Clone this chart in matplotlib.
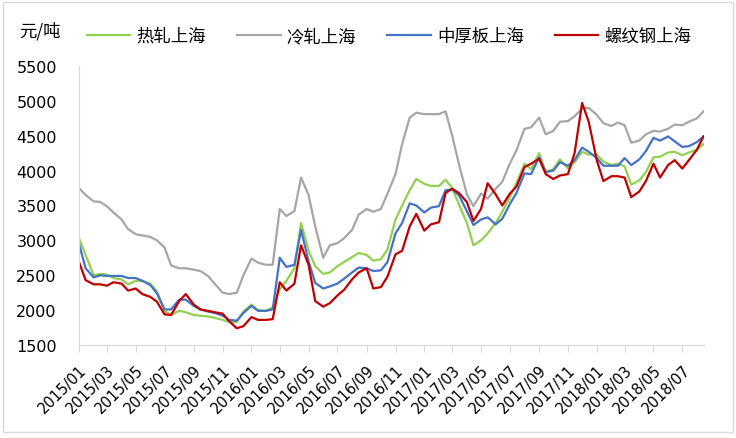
import matplotlib
matplotlib.use('Agg')
import matplotlib.pyplot as plt
import pandas as pd
from matplotlib.patches import Rectangle
from matplotlib.font_manager import FontProperties

plt.rcParams['font.family'] = ['Noto Sans CJK SC', 'DejaVu Sans']

# semi-monthly observation dates (1st and 15th of each month)
dates = pd.date_range('2015-01-01', periods=88, freq='SMS')

hot_rolled = [3030, 2790, 2500, 2520, 2510, 2460, 2440, 2370, 2420, 2420,
              2380, 2270, 1990, 1930, 1990, 1970, 1930, 1920, 1910, 1890,
              1860, 1830, 1830, 1980, 2080, 2000, 1990, 2040, 2300, 2420,
              2600, 3250, 2850, 2630, 2520, 2540, 2630, 2690, 2760, 2820,
              2790, 2710, 2730, 2870, 3300, 3500, 3720, 3880, 3810, 3780,
              3780, 3870, 3750, 3520, 3250, 2930, 3000, 3100, 3250, 3410,
              3620, 3820, 4100, 4020, 4250, 3980, 4020, 4160, 4030, 4120,
              4270, 4230, 4230, 4130, 4080, 4100, 4060, 3800, 3860, 3980,
              4190, 4200, 4260, 4270, 4220, 4260, 4300, 4380]

cold_rolled = [3750, 3650, 3560, 3550, 3490, 3400, 3300, 3160, 3090, 3070,
               3050, 3000, 2900, 2640, 2600, 2600, 2580, 2560, 2490, 2380,
               2250, 2230, 2250, 2500, 2740, 2680, 2650, 2650, 3450, 3350,
               3420, 3900, 3650, 3200, 2750, 2930, 2960, 3030, 3150, 3370,
               3450, 3410, 3450, 3670, 3950, 4380, 4760, 4830, 4810, 4810,
               4810, 4850, 4500, 4100, 3660, 3490, 3670, 3600, 3740, 3840,
               4100, 4290, 4600, 4620, 4760, 4520, 4570, 4700, 4710, 4780,
               4890, 4900, 4800, 4680, 4640, 4690, 4650, 4400, 4430, 4520,
               4570, 4560, 4600, 4660, 4650, 4700, 4750, 4850]

plate = [2950, 2600, 2470, 2500, 2490, 2490, 2490, 2460, 2460, 2420,
         2360, 2240, 2010, 2010, 2150, 2150, 2060, 2010, 1980, 1960,
         1920, 1860, 1850, 1960, 2060, 1990, 1990, 2010, 2750, 2620,
         2650, 3150, 2700, 2390, 2310, 2340, 2380, 2450, 2540, 2610,
         2600, 2560, 2570, 2690, 3100, 3250, 3530, 3500, 3400, 3470,
         3490, 3720, 3730, 3650, 3420, 3220, 3300, 3330, 3230, 3310,
         3520, 3680, 3960, 3950, 4190, 3980, 4000, 4120, 4070, 4150,
         4330, 4270, 4180, 4070, 4070, 4070, 4180, 4080, 4160, 4280,
         4470, 4430, 4490, 4420, 4340, 4350, 4410, 4490]

rebar = [2690, 2430, 2370, 2370, 2350, 2400, 2380, 2280, 2310, 2230,
         2190, 2120, 1940, 1930, 2130, 2230, 2080, 2010, 1990, 1970,
         1950, 1840, 1740, 1770, 1900, 1860, 1860, 1870, 2400, 2280,
         2380, 2930, 2650, 2130, 2050, 2100, 2210, 2290, 2440, 2540,
         2600, 2310, 2330, 2480, 2800, 2850, 3200, 3380, 3140, 3230,
         3260, 3680, 3740, 3680, 3550, 3280, 3450, 3820, 3660, 3500,
         3670, 3770, 4050, 4100, 4170, 3950, 3880, 3930, 3950, 4250,
         4970, 4700, 4150, 3850, 3920, 3920, 3900, 3620, 3700, 3850,
         4100, 3900, 4080, 4150, 4030, 4150, 4300, 4490]

series_names = ['热轧上海', '冷轧上海', '中厚板上海', '螺纹钢上海']
series_colors = ['#92D050', '#A6A6A6', '#4472C4', '#C00000']
tick_dates = pd.date_range('2015-01-01', '2018-07-01', freq='2MS')
tick_labels = [d.strftime('%Y/%m') for d in tick_dates]
y_ticks = [1500, 2000, 2500, 3000, 3500, 4000, 4500, 5000, 5500]

W, H = 736, 439
fig = plt.figure(figsize=(W / 100, H / 100), dpi=100)
ax = fig.add_axes([79 / W, 1 - 346 / H, (704 - 79) / W, (346 - 67) / H])

for vals, name, col in zip([hot_rolled, cold_rolled, plate, rebar], series_names, series_colors):
    ax.plot(dates, vals, color=col, lw=1.6, label=name)

ax.set_ylim(1500, 5500)
ax.set_xlim(pd.Timestamp('2015-01-01'), pd.Timestamp('2018-08-16'))
ax.set_yticks(y_ticks)
ax.set_yticklabels([str(v) for v in y_ticks], fontfamily='DejaVu Sans', fontsize=11.5)
ax.set_xticks(tick_dates)
ax.set_xticklabels(tick_labels, fontfamily='DejaVu Sans', fontsize=10.5,
                   rotation=45, ha='right', va='top', rotation_mode='anchor')
ax.tick_params(axis='y', length=0, pad=16)
ax.tick_params(axis='x', length=5, color='#d9d9d9', pad=7)
for s in ['top', 'right']:
    ax.spines[s].set_visible(False)
ax.spines['left'].set_color('#d9d9d9')
ax.spines['bottom'].set_color('#d9d9d9')

cjk = FontProperties(family=['Noto Sans CJK SC', 'DejaVu Sans'], size=12.5, weight='light')

fig.text(19 / W, 1 - 31 / H, '元/吨', fontproperties=cjk, va='center', ha='left')

fig.legend(loc='center left', bbox_to_anchor=(87 / W, 1 - 37 / H), ncol=4, frameon=False,
           prop=cjk, handlelength=2.5, handletextpad=0.35, columnspacing=1.8,
           borderpad=0, borderaxespad=0)

fig.patches.append(Rectangle((3 / W, 1 - 433 / H), 730 / W, 430 / H, transform=fig.transFigure,
                             fill=False, edgecolor='#d9d9d9', lw=1))

fig.savefig('out.png', dpi=100)
